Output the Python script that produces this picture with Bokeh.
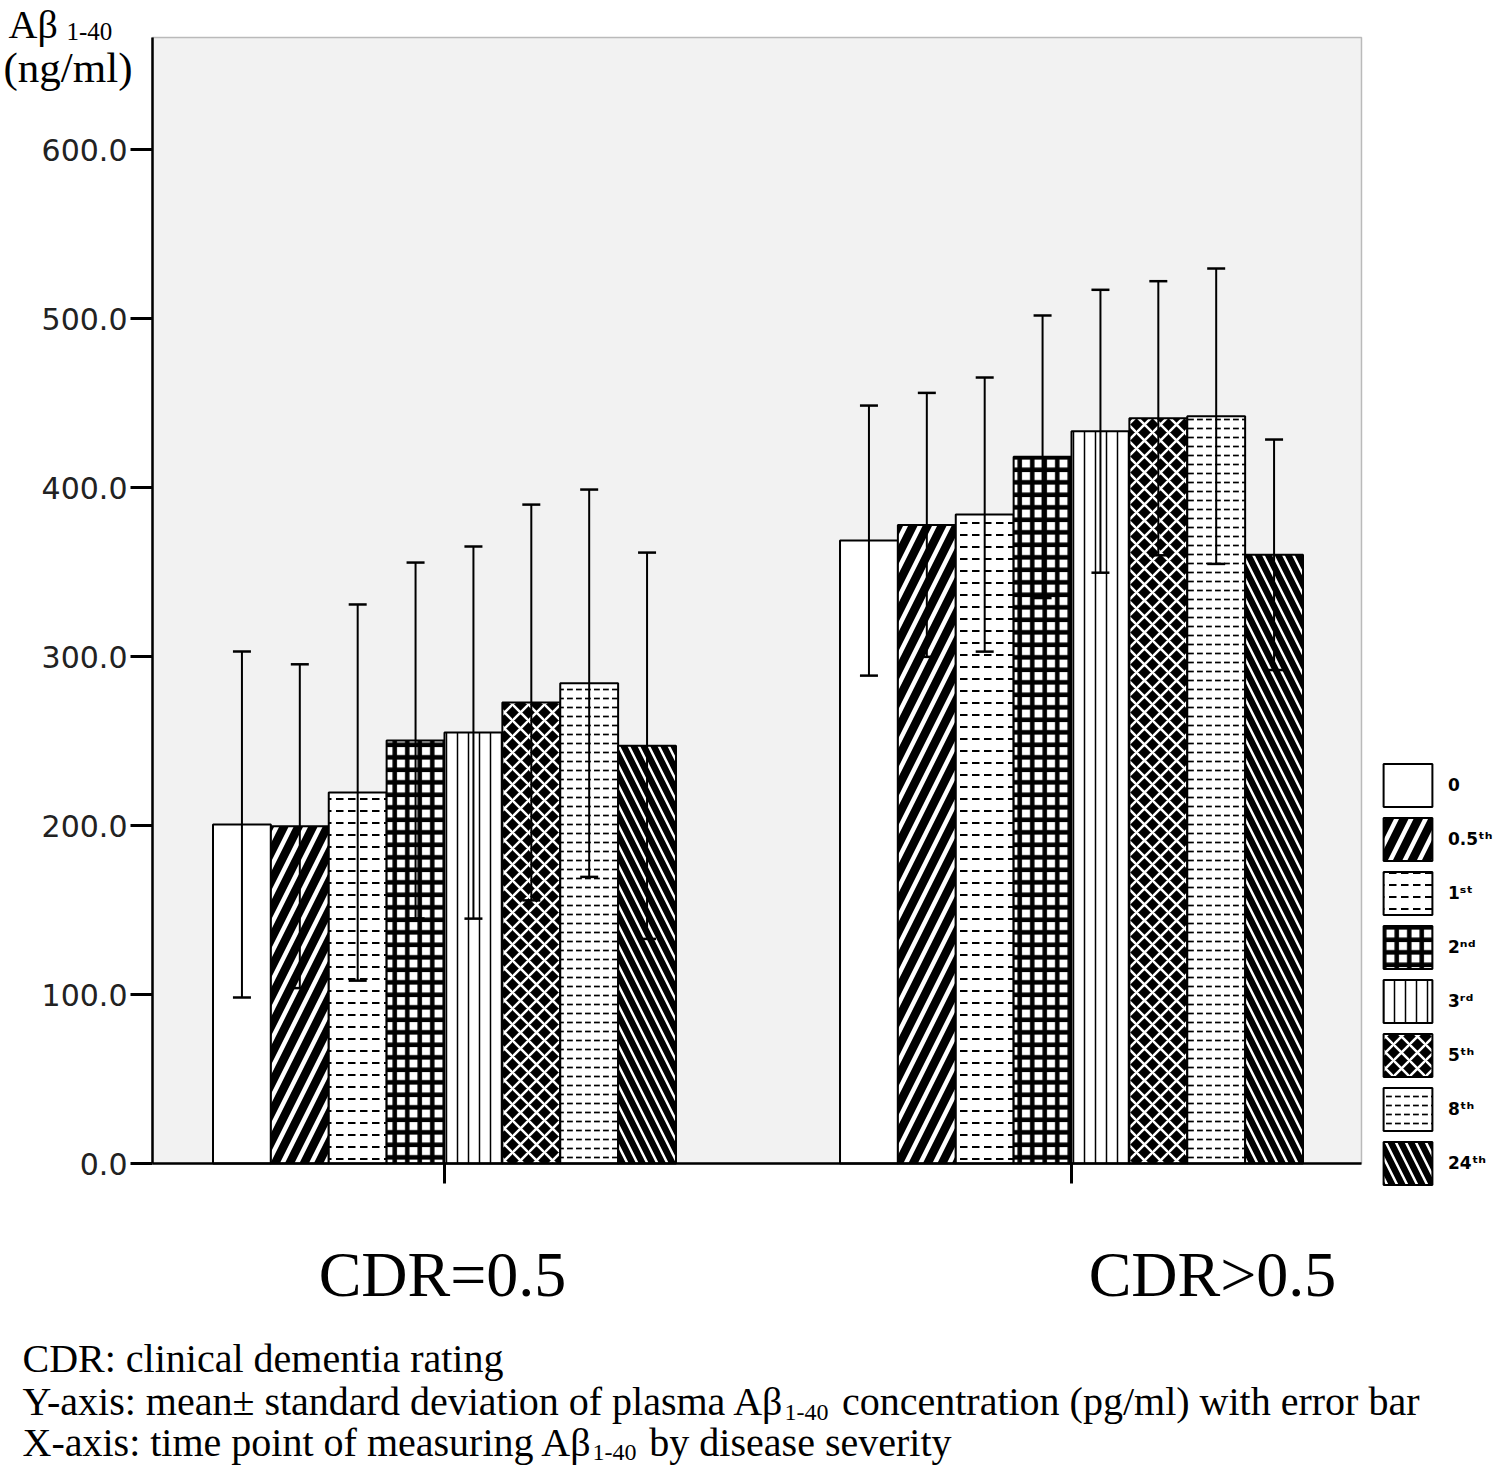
from bokeh.plotting import figure
from bokeh.models import (Range1d, FixedTicker, PrintfTickFormatter, Whisker, TeeHead,
                          ColumnDataSource, Legend, LegendItem, Label, BoxAnnotation)
from bokeh.embed import file_html
from bokeh.resources import INLINE

# ---------------- data ----------------
groups = ["CDR=0.5", "CDR>0.5"]
time_points = ["0", "0.5\u1d57\u02b0", "1\u02e2\u1d57", "2\u207f\u1d48", "3\u02b3\u1d48",
               "5\u1d57\u02b0", "8\u1d57\u02b0", "24\u1d57\u02b0"]
mean_cdr05 = [200.6, 199.6, 219.5, 250.3, 255.0, 272.8, 284.2, 247.2]
sd_cdr05 = [102.4, 95.8, 111.3, 105.3, 110.1, 117.1, 114.6, 114.3]
mean_cdr_gt05 = [368.6, 377.9, 384.0, 418.2, 433.3, 441.0, 442.2, 360.2]
sd_cdr_gt05 = [79.9, 78.1, 81.1, 83.6, 83.7, 81.1, 87.4, 68.2]
y_ticks = [0, 100, 200, 300, 400, 500, 600]

# ---------------- layout geometry (pixels) ----------------
W, H = 1493, 1465
PL, PR, PT, PB = 152, 1361, 37, 1163          # plot area in canvas pixels
X0, X1 = -0.4657, 1.4625                       # data x at plot left / right
Y0, Y1 = 0.0, 666.3                            # data y at plot bottom / top
sxp = (PR - PL) / (X1 - X0)
syp = (PB - PT) / (Y1 - Y0)
x_range = Range1d(X0 - PL / sxp, X1 + (W - PR) / sxp)
y_range = Range1d(Y0 - (H - PB) / syp, Y1 + PT / syp)

styles = [
    dict(fill_color="white"),
    dict(fill_color="black", hatch_pattern="right_diagonal_line", hatch_color="white", hatch_scale=29, hatch_weight=4.5),
    dict(fill_color="white", hatch_pattern="horizontal_dash", hatch_color="black", hatch_scale=12, hatch_weight=2),
    dict(fill_color="white", hatch_pattern="cross", hatch_color="black", hatch_scale=12.5, hatch_weight=4.5),
    dict(fill_color="white", hatch_pattern="vertical_line", hatch_color="black", hatch_scale=11, hatch_weight=1.5),
    dict(fill_color="black", hatch_pattern="diagonal_cross", hatch_color="white", hatch_scale=16, hatch_weight=2.5),
    dict(fill_color="white", hatch_pattern="horizontal_dash", hatch_color="black", hatch_scale=9, hatch_weight=1.7),
    dict(fill_color="black", hatch_pattern="left_diagonal_line", hatch_color="white", hatch_scale=20, hatch_weight=2.5),
]

p = figure(width=W, height=H, output_backend="svg", toolbar_location=None,
           x_range=x_range, y_range=y_range, min_border=0)
p.background_fill_color = "white"
p.border_fill_color = "white"
p.outline_line_color = None
p.xgrid.visible = False
p.ygrid.visible = False

# plot area background + frame
p.add_layout(BoxAnnotation(left=X0, right=X1, bottom=Y0, top=Y1,
                           fill_color="#f2f2f2", fill_alpha=1.0,
                           line_color="#2a2a2a", line_width=1.5, level="underlay"))

# y axis
p.yaxis.fixed_location = X0
p.yaxis.bounds = (Y0, Y1)
p.yaxis.ticker = FixedTicker(ticks=y_ticks)
p.yaxis.formatter = PrintfTickFormatter(format="%.1f")
p.yaxis.major_label_text_font = "DejaVu Sans"
p.yaxis.major_label_text_font_size = "30px"
p.yaxis.major_label_text_color = "#222222"
p.yaxis.major_tick_out = 22
p.yaxis.major_tick_in = 0
p.yaxis.major_tick_line_width = 3
p.yaxis.minor_tick_line_color = None
p.yaxis.axis_line_width = 2.5
p.yaxis.major_label_standoff = 3

# x axis
group_centers = list(range(len(groups)))
p.xaxis.fixed_location = Y0
p.xaxis.bounds = (X0, X1)
p.xaxis.ticker = FixedTicker(ticks=group_centers)
p.xaxis.major_label_overrides = {g: "" for g in group_centers}
p.xaxis.major_tick_out = 20
p.xaxis.major_tick_in = 0
p.xaxis.major_tick_line_width = 3
p.xaxis.minor_tick_line_color = None
p.xaxis.axis_line_width = 2.5

# bars + error bars
n = len(time_points)
w = 0.0923
items = []
for i, tp in enumerate(time_points):
    xs = [g + (i - (n - 1) / 2) * w for g in group_centers]
    tops = [mean_cdr05[i], mean_cdr_gt05[i]]
    sds = [sd_cdr05[i], sd_cdr_gt05[i]]
    src = ColumnDataSource(dict(x=xs, top=tops,
                                upper=[t + s for t, s in zip(tops, sds)],
                                lower=[t - s for t, s in zip(tops, sds)]))
    r = p.vbar(x="x", top="top", bottom=0, width=w, source=src,
               line_color="black", line_width=2, **styles[i])
    p.add_layout(Whisker(base="x", upper="upper", lower="lower", source=src,
                         line_color="black", line_width=2,
                         upper_head=TeeHead(size=18, line_width=2.5, line_color="black"),
                         lower_head=TeeHead(size=18, line_width=2.5, line_color="black"),
                         level="annotation"))
    items.append(LegendItem(label=tp, renderers=[r]))

# legend: glyph rects are drawn at 80% of glyph size
legend = Legend(items=items, location=(1377, H - 1190), margin=0, padding=10,
                glyph_width=61, glyph_height=54, spacing=0, label_standoff=10,
                border_line_color=None, background_fill_alpha=0,
                label_text_font="DejaVu Sans", label_text_font_style="bold",
                label_text_font_size="17px", label_text_color="black")
p.add_layout(legend, "center")

# ---------------- texts (canvas pixel positions of the baseline, from top) ----------------
serif = "Liberation Serif"

def lab(text, x, base, size, align="left"):
    # texts are anchored at their middle; the middle sits ~0.34 em above the baseline
    mid = base - 0.34 * size
    p.add_layout(Label(x=x, y=H - mid, x_units="screen", y_units="screen", text=text,
                       text_font=serif, text_font_size=f"{size}px", text_color="black",
                       text_align=align, text_baseline="middle"))

# y-axis title (top-left)
lab("A\u03b2", 8, 38, 40)
lab("1-40", 66, 39, 25)
lab("(ng/ml)", 3, 82, 43)

# group labels
lab(groups[0], 442, 1296, 64, align="center")
lab(groups[1], 1212, 1296, 64, align="center")

# captions
lab("CDR: clinical dementia rating", 22, 1372, 40)
lab("Y-axis: mean\u00b1 standard deviation of plasma A\u03b2", 22, 1415, 40)
lab("1-40", 784, 1420, 24)
lab("concentration (pg/ml) with error bar", 1419, 1415, 40, align="right")
lab("X-axis: time point of measuring A\u03b2", 22, 1456, 40)
lab("1-40", 592, 1460, 24)
lab("by disease severity", 951, 1456, 40, align="right")

open("out.html", "w").write(file_html(p, INLINE))
